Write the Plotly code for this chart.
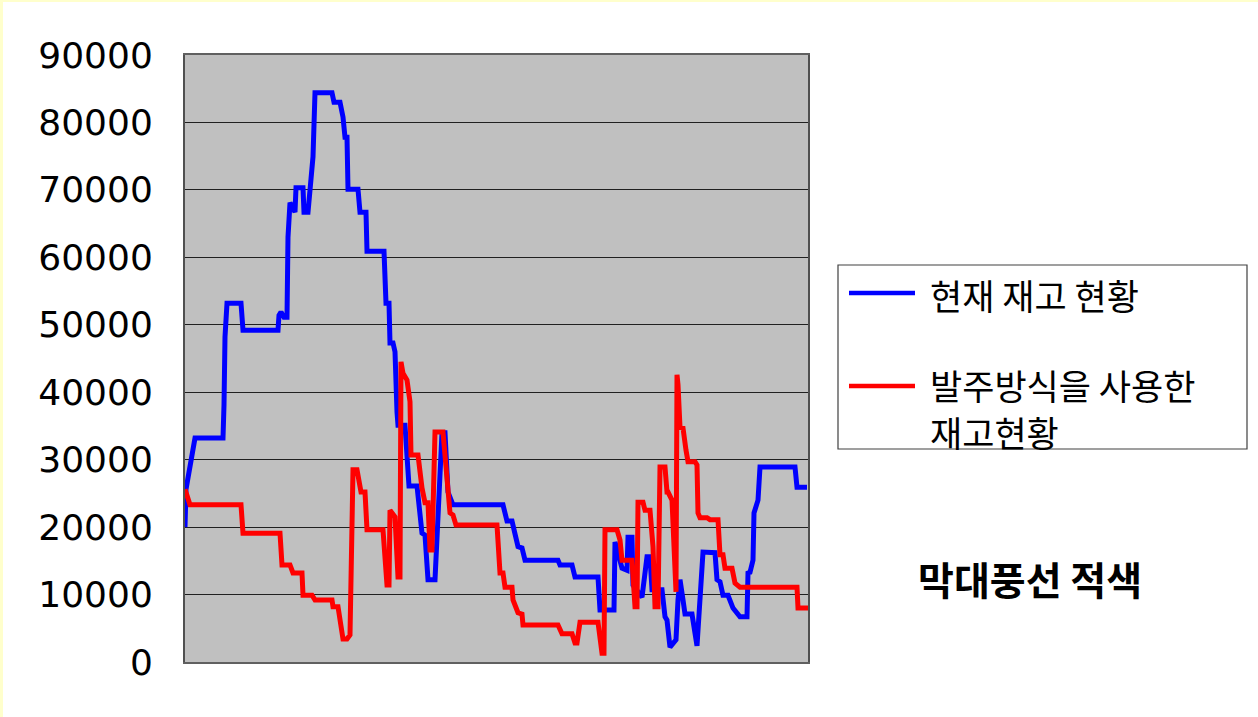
import plotly.graph_objects as go

# ---- data ----
blue_day = [0, 1, 10, 38, 39, 40, 42, 56, 58, 93, 94, 96, 99, 102, 103, 105, 110, 111, 118, 119,
            123, 125, 128, 130, 147, 149, 155, 158, 160, 162, 163, 173, 175, 181, 182, 199, 201, 204, 205, 208,
            210, 212, 213, 220, 224, 232, 237, 240, 243, 250, 257, 260, 263, 268, 318, 322, 327, 330, 333, 337,
            340, 373, 375, 387, 390, 413, 415, 429, 430, 437, 442, 443, 447, 448, 452, 457, 462, 465, 467, 477,
            480, 482, 485, 491, 493, 495, 498, 500, 507, 512, 518, 523, 530, 532, 535, 538, 543, 548, 552, 555,
            562, 563, 565, 568, 569, 573, 575, 610, 612, 622]
blue_val = [20000, 25600, 33200, 33200, 38100, 48200, 53200, 53200, 49200, 49200, 51400, 51900, 51100, 51100, 63000, 68100, 66700, 70300, 70300, 66700,
            66700, 71000, 74900, 84400, 84400, 83000, 83000, 80800, 77800, 77800, 70100, 70100, 66700, 66700, 60900, 60900, 53200, 53200, 47300, 47300,
            46000, 37100, 35100, 35100, 26100, 26100, 19100, 18800, 12200, 12200, 34000, 34000, 25200, 23300, 23300, 20900, 20900, 19000, 17100, 16900,
            15100, 15100, 14400, 14400, 12600, 12600, 7700, 7700, 17800, 13900, 13600, 18500, 18500, 11400, 10700, 9600, 15600, 15600, 10700, 10700,
            6700, 6200, 2200, 3300, 9200, 12200, 9200, 7100, 7100, 2400, 16300, 16300, 16200, 12200, 11900, 9900, 9900, 8000, 7400, 6700,
            6700, 13200, 13300, 15100, 22100, 24000, 28900, 28900, 25900, 25900]

red_day = [0, 5, 56, 58, 95, 97, 105, 108, 117, 118, 127, 130, 147, 148, 153, 158, 162, 165, 168, 172,
           176, 180, 182, 198, 202, 204, 205, 210, 213, 215, 216, 218, 222, 225, 226, 233, 237, 240, 243, 245,
           247, 250, 258, 262, 265, 268, 271, 312, 315, 318, 320, 327, 328, 333, 337, 338, 373, 377, 387, 390,
           392, 395, 413, 417, 419, 420, 432, 435, 437, 447, 450, 452, 453, 458, 460, 465, 468, 470, 473, 475,
           480, 482, 483, 487, 490, 491, 492, 493, 495, 498, 501, 503, 510, 512, 513, 515, 522, 525, 533, 535,
           538, 540, 547, 550, 555, 612, 613, 623]
red_val = [25600, 23300, 23300, 19100, 19100, 14400, 14400, 13200, 13200, 9900, 9900, 9200, 9200, 8200, 8200, 3400, 3400, 4000, 28500, 28500,
           25200, 25200, 19600, 19600, 11400, 11400, 22500, 21500, 12600, 12600, 44500, 42800, 41800, 38600, 30700, 30700, 25800, 23600, 23600, 16600,
           16600, 34100, 34100, 26500, 22100, 21800, 20300, 20300, 13200, 13200, 11100, 11100, 9200, 7300, 7100, 5500, 5500, 4200, 4200, 2800,
           2800, 5900, 5900, 1300, 1300, 19600, 19600, 18100, 15100, 15100, 8200, 8200, 23700, 23700, 22500, 22500, 17100, 8200, 8200, 28900,
           28900, 25200, 25200, 24000, 10400, 10400, 42600, 41100, 34800, 34700, 31400, 29700, 29700, 29200, 22100, 21400, 21400, 21100, 21100, 15900,
           15900, 13900, 13900, 11700, 11100, 11100, 8000, 8000]

series_names = ["현재 재고 현황", "발주방식을 사용한 재고현황"]
legend_lines = [["현재 재고 현황"], ["발주방식을 사용한", "재고현황"]]
series_colors = ["#0000FF", "#FF0000"]
y_ticks = [0, 10000, 20000, 30000, 40000, 50000, 60000, 70000, 80000, 90000]
chart_title = "막대풍선 적색"

# ---- layout geometry (pixels) ----
W, H = 1258, 717
L, R, T, B = 185, 808, 55, 662


def px(x):
    return (x - L) / (R - L)


def py(y):
    return (B - y) / (B - T)


fig = go.Figure()
fig.add_trace(go.Scatter(x=blue_day, y=blue_val, mode="lines", name=series_names[0],
                         line=dict(color=series_colors[0], width=5), showlegend=False))
fig.add_trace(go.Scatter(x=red_day, y=red_val, mode="lines", name=series_names[1],
                         line=dict(color=series_colors[1], width=5), showlegend=False))

shapes = [
    # yellow page edge
    dict(type="rect", xref="paper", yref="paper", x0=px(0), x1=px(3), y0=py(H), y1=py(0),
         fillcolor="#FFFFCC", line=dict(width=0), layer="below"),
    dict(type="rect", xref="paper", yref="paper", x0=px(0), x1=px(W), y0=py(2), y1=py(0),
         fillcolor="#FFFFCC", line=dict(width=0), layer="below"),
    # legend box
    dict(type="rect", xref="paper", yref="paper", x0=px(838), x1=px(1247), y0=py(449), y1=py(265),
         fillcolor="white", line=dict(color="#404040", width=1.2)),
    dict(type="line", xref="paper", yref="paper", x0=px(849), x1=px(915), y0=py(293), y1=py(293),
         line=dict(color=series_colors[0], width=4.5)),
    dict(type="line", xref="paper", yref="paper", x0=px(849), x1=px(915), y0=py(386), y1=py(386),
         line=dict(color=series_colors[1], width=4.5)),
]

legend_font = dict(family="Noto Sans CJK KR", size=35, color="black")
annotations = [
    dict(xref="paper", yref="paper", x=px(928), y=py(294), xanchor="left", yanchor="middle",
         text=legend_lines[0][0], showarrow=False, font=legend_font),
    dict(xref="paper", yref="paper", x=px(928), y=py(384), xanchor="left", yanchor="middle",
         text=legend_lines[1][0], showarrow=False, font=legend_font),
    dict(xref="paper", yref="paper", x=px(928), y=py(431), xanchor="left", yanchor="middle",
         text=legend_lines[1][1], showarrow=False, font=legend_font),
    dict(xref="paper", yref="paper", x=px(1030), y=py(578), xanchor="center", yanchor="middle",
         text="<b>" + chart_title + "</b>", showarrow=False,
         font=dict(family="Noto Sans CJK KR", size=39, color="black")),
]

fig.update_layout(
    width=W, height=H,
    margin=dict(l=L, r=W - R, t=T, b=H - B, pad=0),
    paper_bgcolor="white",
    plot_bgcolor="#C0C0C0",
    showlegend=False,
    shapes=shapes,
    annotations=annotations,
    xaxis=dict(range=[0, 623], showticklabels=False, showgrid=False, zeroline=False,
               ticks="", showline=True, linecolor="#606060", linewidth=2, mirror=True,
               fixedrange=True),
    yaxis=dict(range=[0, 90000], tickvals=y_ticks, ticktext=[str(v) for v in y_ticks],
               showgrid=True, gridcolor="#202020", gridwidth=1, zeroline=False,
               ticks="", showline=True, linecolor="#505050", linewidth=2, mirror=True,
               ticklabelstandoff=23,
               tickfont=dict(family="DejaVu Sans", size=36, color="black"),
               fixedrange=True),
)

fig.write_html("out.html", config={"displayModeBar": False},
               post_script="document.body.style.margin='0';document.body.style.padding='0';")
